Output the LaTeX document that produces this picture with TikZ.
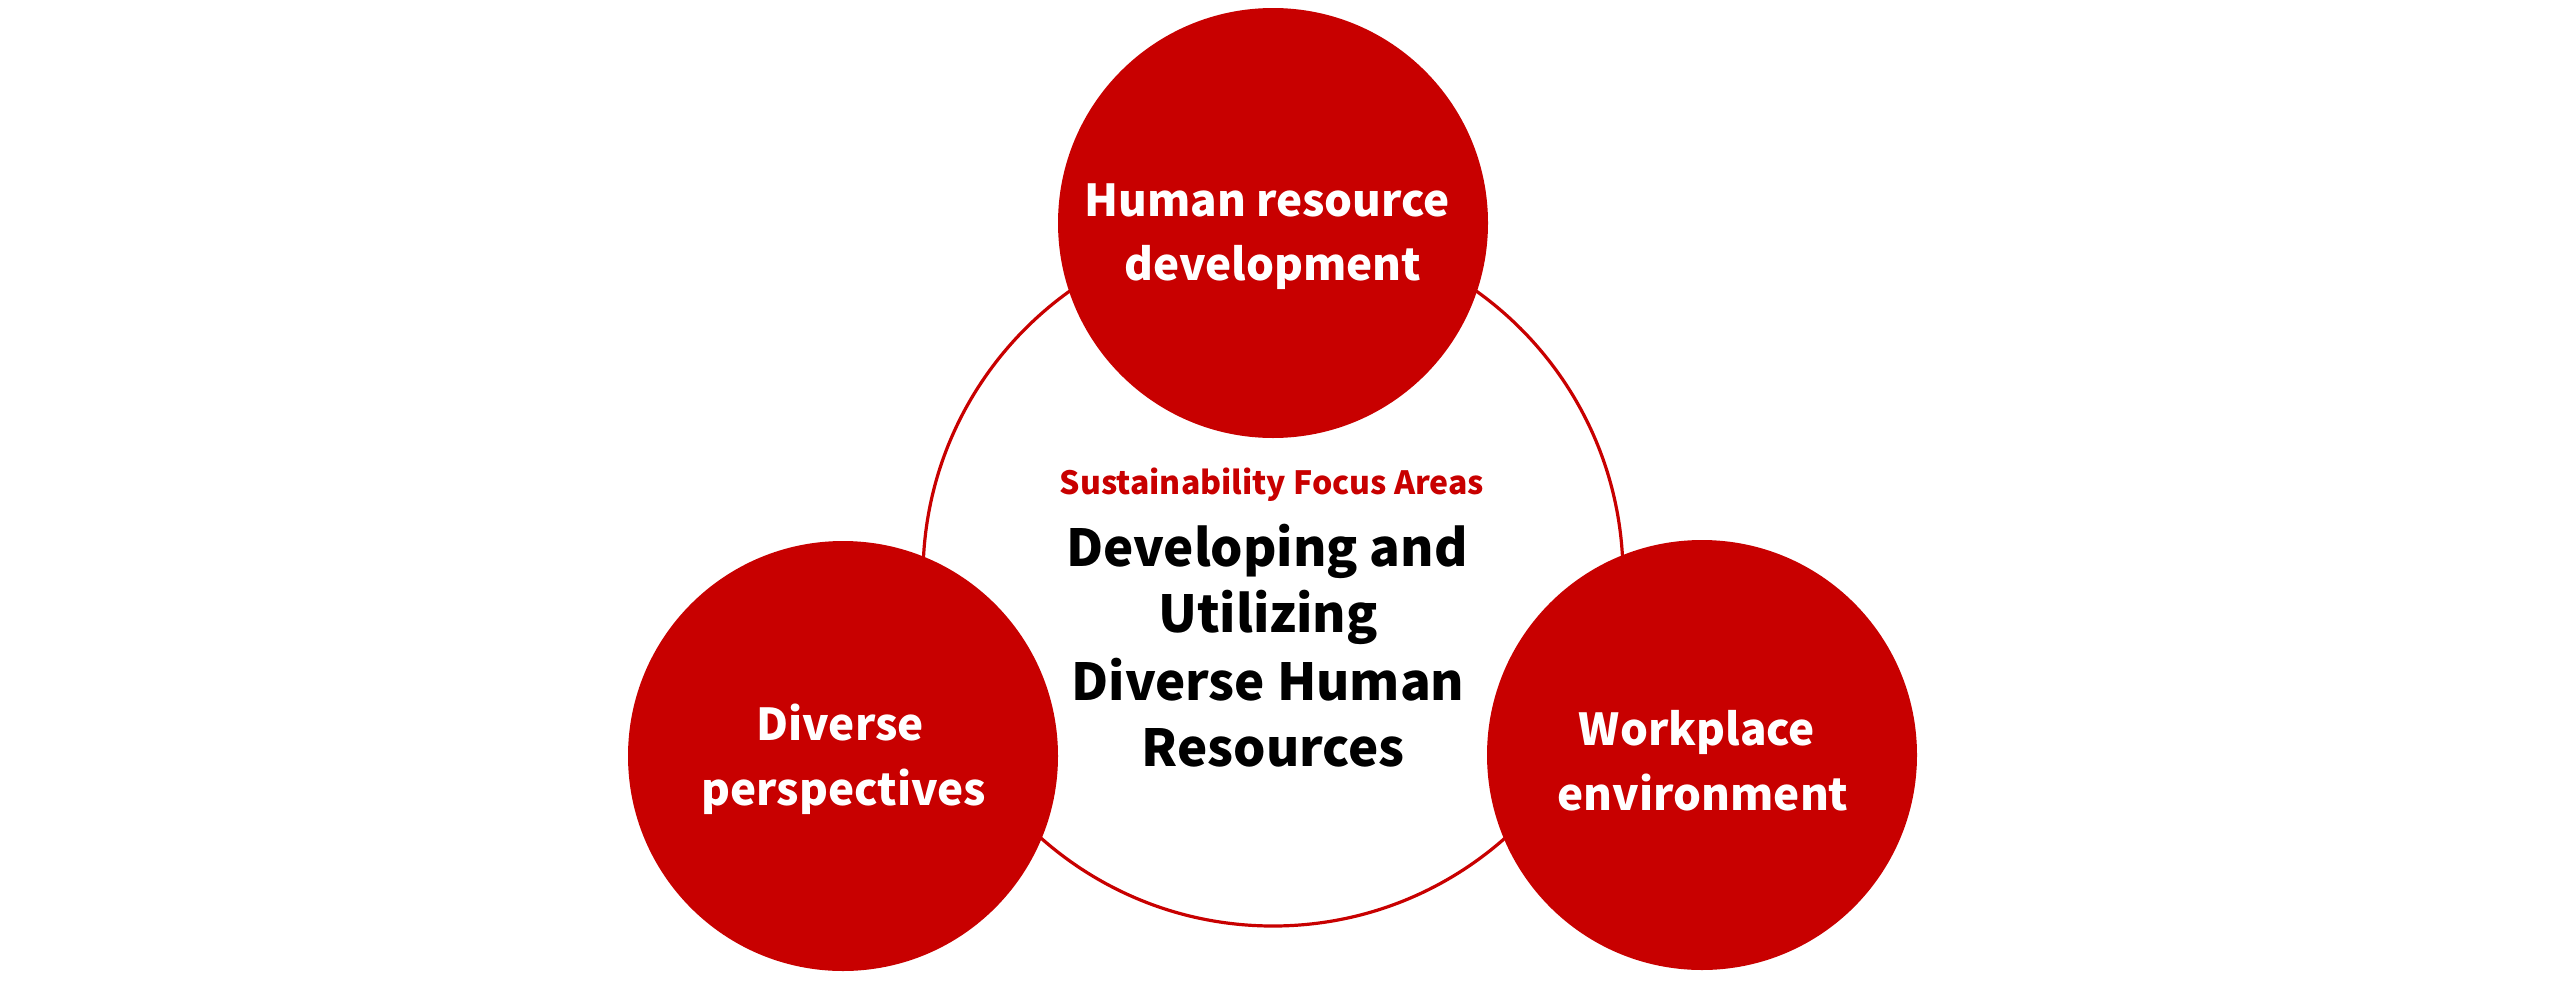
\documentclass[tikz,border=0pt]{standalone}
\usepackage{fontspec}
\setmainfont{Noto Sans CJK JP}
\definecolor{brandred}{RGB}{200,0,0}
\tikzset{
  bubble/.style={circle, fill=brandred, draw=none, minimum size=430pt, inner sep=0pt},
  whitelabel/.style={anchor=base, text=white, font=\fontsize{44}{52}\selectfont\bfseries, inner sep=0pt},
  titlelabel/.style={anchor=base, text=black, font=\fontsize{51}{60}\selectfont\bfseries, inner sep=0pt},
  redlabel/.style={anchor=base, text=brandred, font=\fontsize{32}{40}\selectfont\bfseries, inner sep=0pt},
  ringline/.style={draw=brandred, line width=3.2pt}
}
\begin{document}
\begin{tikzpicture}[x=1pt, y=-1pt]
\fill[white] (0,0) rectangle (2550,996);
\useasboundingbox (0,0) rectangle (2550,996);
% ring
\coordinate (ringc) at (1273,576);
\draw[ringline] (ringc) circle[radius=350];
% bubbles
\node[bubble] (top) at (1273,223) {};
\node[bubble] (left) at (843,756) {};
\node[bubble] (right) at (1702,755) {};
% bubble labels
\node[whitelabel] (t1) at (1267,216) {Human resource};
\node[whitelabel] (t2) at (1273,280) {development};
\node[whitelabel] (l1) at (840,740) {Diverse};
\node[whitelabel] (l2) at (844,805) {perspectives};
\node[whitelabel] (r1) at (1697,745) {Workplace};
\node[whitelabel] (r2) at (1703,810) {environment};
% centre
\node[redlabel] (sub) at (1272,494) {Sustainability Focus Areas};
\node[titlelabel] (c1) at (1267,566) {Developing and};
\node[titlelabel] (c2) at (1268,632) {Utilizing};
\node[titlelabel] (c3) at (1268,700) {Diverse Human};
\node[titlelabel] (c4) at (1273,766) {Resources};
\end{tikzpicture}
\end{document}
